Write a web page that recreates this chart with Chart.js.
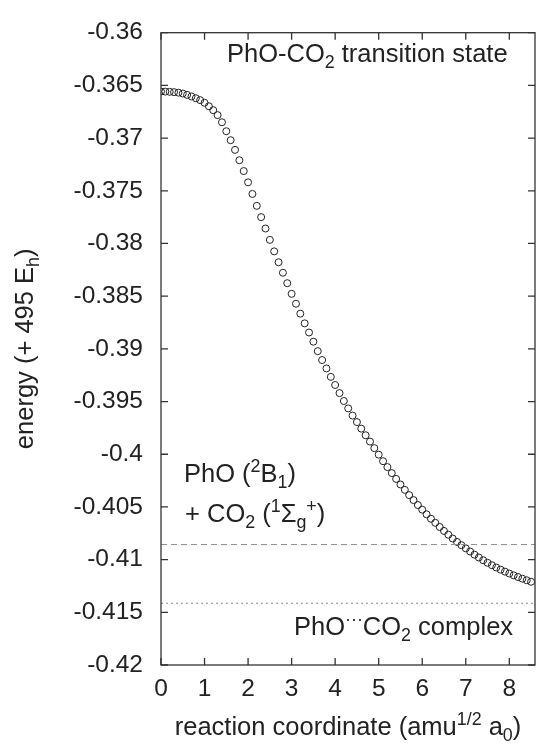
<!DOCTYPE html>
<html>
<head>
<meta charset="utf-8">
<script src="https://cdn.jsdelivr.net/npm/chart.js@4.4.1/dist/chart.umd.min.js"></script>
<style>
  html, body { margin: 0; padding: 0; background: #fff; }
  #wrap { width: 540px; height: 744px; }
</style>
</head>
<body>
<div id="wrap"><canvas id="irc" width="540" height="744"></canvas></div>
<script>
// reaction coordinate (amu^1/2 a0) and energy (+495 Eh)
const coordX = [
  0.0, 0.1, 0.2, 0.3, 0.4, 0.5, 0.6, 0.7, 0.8, 0.9,
  1.0, 1.1, 1.2, 1.3, 1.4, 1.5, 1.6, 1.7, 1.8, 1.9,
  2.0, 2.1, 2.2, 2.3, 2.4, 2.5, 2.6, 2.7, 2.8, 2.9,
  3.0, 3.1, 3.2, 3.3, 3.4, 3.5, 3.6, 3.7, 3.8, 3.9,
  4.0, 4.1, 4.2, 4.3, 4.4, 4.5, 4.6, 4.7, 4.8, 4.9,
  5.0, 5.1, 5.2, 5.3, 5.4, 5.5, 5.6, 5.7, 5.8, 5.9,
  6.0, 6.1, 6.2, 6.3, 6.4, 6.5, 6.6, 6.7, 6.8, 6.9,
  7.0, 7.1, 7.2, 7.3, 7.4, 7.5, 7.6, 7.7, 7.8, 7.9,
  8.0, 8.1, 8.2, 8.3, 8.4, 8.5
];
const energy = [
  -0.36558, -0.36559, -0.36561, -0.36564, -0.36569, -0.36577, -0.36590, -0.36605, -0.36622, -0.36640,
  -0.36665, -0.36698, -0.36735, -0.36782, -0.36850, -0.36935, -0.37020, -0.37112, -0.37210, -0.37313,
  -0.37420, -0.37530, -0.37643, -0.37750, -0.37858, -0.37966, -0.38075, -0.38178, -0.38278, -0.38377,
  -0.38478, -0.38572, -0.38666, -0.38758, -0.38845, -0.38932, -0.39022, -0.39106, -0.39186, -0.39266,
  -0.39343, -0.39420, -0.39495, -0.39565, -0.39633, -0.39695, -0.39757, -0.39820, -0.39880, -0.39942,
  -0.40004, -0.40066, -0.40122, -0.40179, -0.40234, -0.40287, -0.40338, -0.40388, -0.40435, -0.40482,
  -0.40526, -0.40570, -0.40612, -0.40651, -0.40690, -0.40728, -0.40764, -0.40800, -0.40832, -0.40863,
  -0.40893, -0.40923, -0.40953, -0.40980, -0.41006, -0.41030, -0.41053, -0.41075, -0.41095, -0.41114,
  -0.41132, -0.41149, -0.41165, -0.41181, -0.41196, -0.41210
];
// reference levels
const reactantLevel = -0.40857;  // PhO + CO2
const complexLevel = -0.41414;   // PhO...CO2 complex

const xMin = 0, xMax = 8.59;
const yMin = -0.42, yMax = -0.36;

const FONT = '"Liberation Sans", Arial, Helvetica, sans-serif';
const INK = '#222';
const SIZE = 25.5;      // annotations and axis titles
const TICK_SIZE = 24.5;

// text pieces: [text, '' | 'sup' | 'sub']
function richWidth(ctx, parts, size) {
  let w = 0;
  for (const [t, m] of parts) {
    ctx.font = (m ? size * 0.7 : size) + 'px ' + FONT;
    w += ctx.measureText(t).width;
  }
  return w;
}
function drawRich(ctx, parts, x, y, size, align) {
  let cx = align === 'center' ? x - richWidth(ctx, parts, size) / 2 : x;
  ctx.textBaseline = 'alphabetic';
  ctx.textAlign = 'left';
  for (const [t, m] of parts) {
    ctx.font = (m ? size * 0.7 : size) + 'px ' + FONT;
    let dy = 0;
    if (m === 'sup') dy = -size * 0.4;
    if (m === 'sub') dy = size * 0.25;
    ctx.fillText(t, cx, y + dy);
    cx += ctx.measureText(t).width;
  }
}

const frameTicks = {
  id: 'frameTicks',
  afterDatasetsDraw(chart) {
    const { ctx, chartArea: a, scales } = chart;
    ctx.save();
    ctx.strokeStyle = '#333';
    ctx.lineWidth = 1.3;
    ctx.strokeRect(a.left, a.top, a.right - a.left, a.bottom - a.top);
    const len = 7;
    ctx.beginPath();
    scales.x.ticks.forEach(t => {
      const px = scales.x.getPixelForValue(t.value);
      ctx.moveTo(px, a.bottom); ctx.lineTo(px, a.bottom - len);
      ctx.moveTo(px, a.top); ctx.lineTo(px, a.top + len);
    });
    scales.y.ticks.forEach(t => {
      const py = scales.y.getPixelForValue(t.value);
      ctx.moveTo(a.left, py); ctx.lineTo(a.left + len, py);
      ctx.moveTo(a.right, py); ctx.lineTo(a.right - len, py);
    });
    ctx.stroke();

    ctx.fillStyle = INK;

    // annotations
    drawRich(ctx, [['PhO-CO', ''], ['2', 'sub'], [' transition state', '']], 227, 62, SIZE, 'left');
    drawRich(ctx, [['PhO (', ''], ['2', 'sup'], ['B', ''], ['1', 'sub'], [')', '']], 184, 482, SIZE, 'left');
    drawRich(ctx, [['+ CO', ''], ['2', 'sub'], [' (', ''], ['1', 'sup'], ['\u03A3', ''], ['g', 'sub'], ['+', 'sup'], [')', '']], 185, 522, SIZE, 'left');
    drawRich(ctx, [['PhO', ''], ['\u00B7\u00B7\u00B7', 'sup'], ['CO', ''], ['2', 'sub'], [' complex', '']], 294, 635, SIZE, 'left');

    // axis titles
    drawRich(ctx, [['reaction coordinate (amu', ''], ['1/2', 'sup'], [' a', ''], ['0', 'sub'], [')', '']],
      (a.left + a.right) / 2, 735, SIZE, 'center');
    ctx.save();
    ctx.translate(33, (a.top + a.bottom) / 2);
    ctx.rotate(-Math.PI / 2);
    drawRich(ctx, [['energy (+ 495 E', ''], ['h', 'sub'], [')', '']], 0, 0, SIZE, 'center');
    ctx.restore();
    ctx.restore();
  }
};

const points = coordX.map((x, i) => ({ x: x, y: energy[i] }));

new Chart(document.getElementById('irc'), {
  type: 'scatter',
  data: {
    datasets: [
      {
        data: [{ x: xMin, y: reactantLevel }, { x: xMax, y: reactantLevel }],
        showLine: true, borderColor: '#8c8c8c', borderWidth: 1, borderDash: [6, 4], pointRadius: 0
      },
      {
        data: [{ x: xMin, y: complexLevel }, { x: xMax, y: complexLevel }],
        showLine: true, borderColor: '#8c8c8c', borderWidth: 1.2, borderDash: [2, 3], pointRadius: 0
      },
      {
        data: points,
        showLine: false,
        pointRadius: 3.5,
        pointBorderWidth: 1,
        pointBorderColor: '#222',
        pointBackgroundColor: 'rgba(255,255,255,0)'
      }
    ]
  },
  options: {
    responsive: false,
    animation: false,
    layout: { padding: { top: 23, right: 0, left: 0, bottom: 0 } },
    plugins: { legend: { display: false }, tooltip: { enabled: false } },
    scales: {
      x: {
        type: 'linear', min: xMin, max: xMax,
        grid: { display: false, drawTicks: false },
        border: { display: false },
        ticks: { stepSize: 1, includeBounds: false, padding: 10, color: INK, font: { family: FONT, size: TICK_SIZE }, maxRotation: 0 },
        afterFit(s) { s.height = 79; }
      },
      y: {
        type: 'linear', min: yMin, max: yMax,
        grid: { display: false, drawTicks: false },
        border: { display: false },
        ticks: {
          stepSize: 0.005, includeBounds: false, padding: 18, color: INK,
          font: { family: FONT, size: TICK_SIZE },
          callback: v => String(Number(v.toFixed(3)))
        },
        afterFit(s) { s.width = 161; }
      }
    }
  },
  plugins: [frameTicks]
});
</script>
</body>
</html>
